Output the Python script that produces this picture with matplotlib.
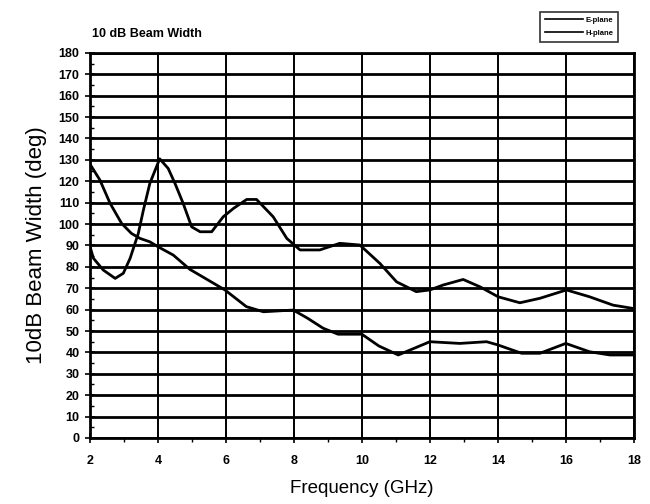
import matplotlib
matplotlib.use('Agg')
import matplotlib.pyplot as plt
import numpy as np

plt.rcParams['font.family'] = ['Liberation Sans', 'DejaVu Sans']

# E-plane: oscillating curve (GHz, deg)
e_freq = [2.0, 2.1, 2.39, 2.74, 2.98, 3.18, 3.42, 3.57, 3.76, 4.05, 4.3, 4.5, 4.74,
          4.99, 5.24, 5.58, 5.92, 6.22, 6.61, 6.9, 7.39, 7.79, 8.18, 8.76, 9.35,
          9.94, 10.53, 11.02, 11.6, 12.0, 12.39, 12.98, 13.47, 14.01, 14.65,
          15.24, 16.02, 16.7, 17.39, 18.0]
e_bw = [89.5, 84, 78.5, 74.6, 77, 84, 95.6, 106.5, 119, 130.5, 126, 119, 109.7,
        98.7, 96.4, 96.4, 103.4, 107.3, 111.5, 111.5, 103.4, 93.3, 87.9, 87.9, 91,
        90.2, 81.6, 73, 68.4, 69.2, 71.5, 74.1, 70.7, 66, 63.2,
        65.3, 69.2, 66, 62.1, 60.5]

# H-plane: decreasing curve
h_freq = [2.0, 2.29, 2.59, 2.93, 3.22, 3.47, 3.76, 4.0, 4.45, 4.94, 5.97, 6.6,
          7.1, 7.98, 8.4, 8.86, 9.3, 10.0, 10.5, 11.07, 12.0, 12.88, 13.67, 14.0,
          14.7, 15.24, 16.0, 16.7, 17.3, 18.0]
h_bw = [128, 120.6, 109.7, 100.3, 95.6, 93.3, 91.7, 89.4, 85.5, 78.8, 69.2, 61.4,
        59, 59.8, 56, 51.3, 48.5, 48.5, 43, 38.8, 45, 44.2, 45, 43.5,
        39.6, 39.6, 44.2, 40.3, 38.8, 38.8]

fig = plt.figure(figsize=(6.5, 5.04), dpi=100)
ax = fig.add_axes([0.1385, 0.131, 0.8365, 0.764])

ax.plot(e_freq, e_bw, color='black', lw=2.0, label='E-plane')
ax.plot(h_freq, h_bw, color='black', lw=2.0, label='H-plane')

ax.set_xlim(2, 18)
ax.set_ylim(0, 180)
ax.set_xticks(np.arange(2, 19, 2))
ax.set_xticks(np.arange(3, 18, 2), minor=True)
ax.set_yticks(np.arange(0, 181, 10))
ax.set_yticks(np.arange(5, 180, 10), minor=True)
ax.grid(axis='y', which='major', color='black', lw=2.0)
ax.grid(axis='x', which='major', color='black', lw=1.4)
ax.tick_params(which='major', direction='inout', length=7, width=1.2, labelsize=9)
ax.tick_params(axis='y', which='minor', direction='in', length=3, width=1.0)
ax.tick_params(axis='x', which='minor', direction='out', length=3, width=1.0)
ax.tick_params(axis='y', pad=4)
ax.tick_params(axis='x', pad=9)
for lbl in ax.get_xticklabels() + ax.get_yticklabels():
    lbl.set_fontweight('bold')
for s in ax.spines.values():
    s.set_linewidth(2)

ax.set_xlabel('Frequency (GHz)', fontsize=13.5, labelpad=9)
ax.set_ylabel('10dB Beam Width (deg)', fontsize=16, labelpad=8)
fig.text(0.141, 0.932, '10 dB Beam Width', fontsize=9, fontweight='bold',
         ha='left', va='center')

leg = ax.legend(loc='upper right', bbox_to_anchor=(0.978, 1.117), fontsize=5.5,
                frameon=True, fancybox=False, edgecolor='black',
                handlelength=5.0, borderpad=0.6, labelspacing=0.8,
                handletextpad=0.3)
leg.get_frame().set_linewidth(1.2)
for l in leg.get_lines():
    l.set_linewidth(1.2)
for t in leg.get_texts():
    t.set_fontweight('bold')

plt.savefig('out.png', dpi=100)
